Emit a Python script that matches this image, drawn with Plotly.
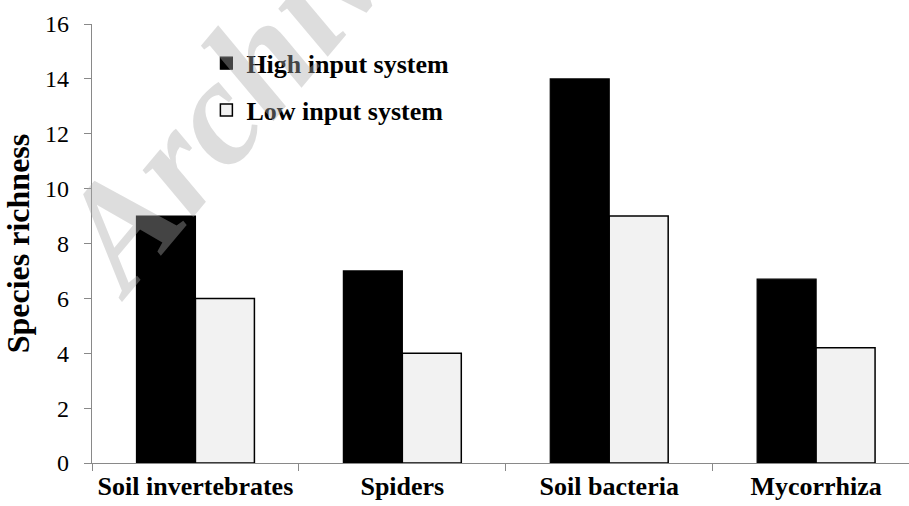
import plotly.graph_objects as go

categories = ["Soil invertebrates", "Spiders", "Soil bacteria", "Mycorrhiza"]
high_input = [9, 7, 14, 6.7]
low_input = [6, 4, 9, 4.2]
series_names = ["<b>High input system</b>", "<b>Low input system</b>"]
y_ticks = [0, 2, 4, 6, 8, 10, 12, 14, 16]

FONT = "Liberation Serif"
AXIS_GRAY = "#898989"

fig = go.Figure()
fig.add_trace(go.Bar(
    x=categories, y=high_input, name=series_names[0],
    marker=dict(color="#000000", line=dict(color="#000000", width=1.2)),
    legendgroup="a",
))
fig.add_trace(go.Bar(
    x=categories, y=low_input, name=series_names[1],
    marker=dict(color="#f2f2f2", line=dict(color="#000000", width=1.5)),
    legendgroup="b",
))

fig.update_layout(
    width=909, height=506,
    margin=dict(l=92, r=0, t=24, b=43),
    paper_bgcolor="white", plot_bgcolor="white",
    barmode="group", bargap=0.43, bargroupgap=0,
    font=dict(family=FONT, color="#000000"),
    legend=dict(
        x=0.14, y=0.964, xanchor="left", yanchor="top",
        font=dict(family=FONT, size=26, color="#000000"),
        traceorder="grouped", tracegroupgap=10,
        bgcolor="rgba(0,0,0,0)",
    ),
    showlegend=True,
)

fig.update_xaxes(
    type="category", range=[-0.5, 3.449],
    showline=True, linecolor=AXIS_GRAY, linewidth=1.3,
    ticks="outside", ticklen=7, tickcolor=AXIS_GRAY, tickwidth=1.3,
    tickson="boundaries", tickangle=0, automargin=False,
    tickvals=categories, ticktext=["<b>" + c + "</b>" for c in categories],
    tickfont=dict(family=FONT, size=26, color="#000000"),
    showgrid=False, zeroline=False,
)
fig.update_yaxes(
    range=[0, 16], tickvals=y_ticks,
    showline=True, linecolor=AXIS_GRAY, linewidth=1.3,
    ticks="outside", ticklen=7, tickcolor=AXIS_GRAY, tickwidth=1.3,
    ticklabelstandoff=10, automargin=False,
    tickfont=dict(family=FONT, size=24, color="#000000"),
    showgrid=False, zeroline=False,
    title=dict(text="<b>Species richness</b>", font=dict(family=FONT, size=32, color="#000000"), standoff=6),
)

# watermark
fig.add_annotation(
    text="<b><i>Archive</i></b>", xref="paper", yref="paper",
    x=0.182, y=0.870, xanchor="center", yanchor="middle",
    textangle=-50, showarrow=False,
    font=dict(family=FONT, size=150, color="rgba(170,170,170,0.4)"),
)

fig.write_html("out.html", config={"displayModeBar": False},
               post_script="document.body.style.margin='0px';")
